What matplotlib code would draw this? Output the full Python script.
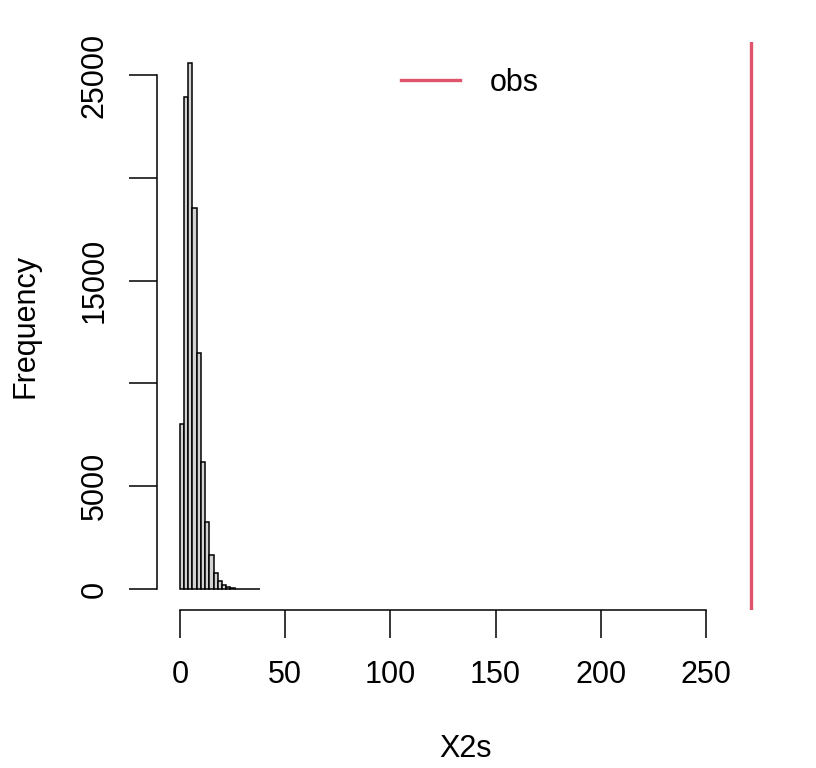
import matplotlib
matplotlib.use("Agg")
import matplotlib.pyplot as plt
import numpy as np

plt.rcParams['font.family'] = ['Liberation Sans', 'DejaVu Sans']

# histogram of simulated X2 statistics (bin width 2)
bin_edges = list(range(0, 40, 2))
counts = [8025, 23950, 25580, 18530, 11490, 6190, 3275, 1655, 765, 390,
          195, 92, 45, 22, 11, 6, 3, 2, 1]
obs = 271.4

x_ticks = [0, 50, 100, 150, 200, 250]
y_ticks = [0, 5000, 10000, 15000, 20000, 25000]
y_labels = ['0', '5000', '', '15000', '', '25000']

red = '#DF536B'

fig = plt.figure(figsize=(8.16, 7.68), dpi=100)
ax = fig.add_axes([157 / 816, 1 - 610 / 768, (774 - 157) / 816, (610 - 42) / 768])

ax.bar(bin_edges[:-1], counts, width=2, align='edge',
       color='#D3D3D3', edgecolor='black', linewidth=1.1)
ax.axvline(obs, color=red, lw=2.4)

# R style: 4% padding on both axes
xr = obs - 0
ax.set_xlim(0 - 0.04 * xr, obs + 0.04 * xr)
yr = max(counts)
ax.set_ylim(-0.04 * yr, yr * 1.04)

for s in ['top', 'right']:
    ax.spines[s].set_visible(False)
ax.spines['bottom'].set_bounds(0, 250)
ax.spines['left'].set_bounds(0, 25000)
for s in ['bottom', 'left']:
    ax.spines[s].set_linewidth(1.1)

ax.set_xticks(x_ticks)
ax.set_xticklabels([str(t) for t in x_ticks])
ax.set_yticks(y_ticks)
ax.set_yticklabels(y_labels, rotation=90, va='center')
ax.tick_params(axis='both', length=20, width=1.1, labelsize=22)
ax.tick_params(axis='x', pad=16)
ax.tick_params(axis='y', pad=14)

ax.set_xlabel('X2s', fontsize=22, labelpad=32)
ax.set_ylabel('Frequency', fontsize=22, labelpad=28)

ax.plot([], [], color=red, lw=2.4, label='obs')
ax.legend(loc='upper center', frameon=False, fontsize=22, handlelength=1.95,
          handletextpad=0.95, bbox_to_anchor=(0.5065, 1.003))

fig.savefig('out.png', dpi=100)
